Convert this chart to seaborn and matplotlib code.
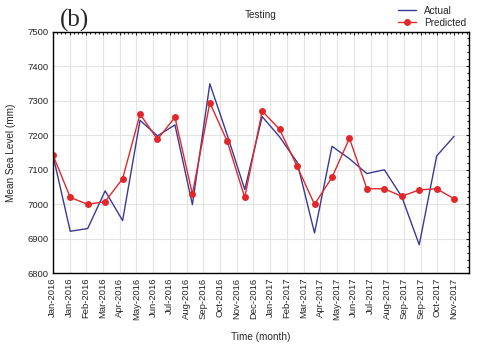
import matplotlib
matplotlib.use("Agg")
import matplotlib.pyplot as plt
import numpy as np
import pandas as pd
import seaborn as sns
from matplotlib.ticker import AutoMinorLocator, MultipleLocator

tick_labels = [
    "Jan-2016", "Jan-2016", "Feb-2016", "Mar-2016", "Apr-2016", "May-2016",
    "Jun-2016", "Jul-2016", "Aug-2016", "Sep-2016", "Oct-2016", "Nov-2016",
    "Dec-2016", "Jan-2017", "Feb-2017", "Mar-2017", "Apr-2017", "May-2017",
    "Jun-2017", "Jul-2017", "Aug-2017", "Sep-2017", "Sep-2017", "Oct-2017",
    "Nov-2017",
]

actual = [7144, 6922, 6930, 7039, 6953, 7243, 7198, 7230, 6999, 7349, 7200, 7043,
          7254, 7195, 7122, 6917, 7168, 7132, 7089, 7100, 7022, 6883, 7140, 7197]
predicted = [7144, 7020, 7000, 7008, 7074, 7261, 7188, 7252, 7030, 7294, 7182, 7020,
             7270, 7217, 7110, 7000, 7078, 7191, 7045, 7045, 7023, 7042, 7045, 7016]

df = pd.DataFrame({"step": range(len(actual)), "Actual": actual, "Predicted": predicted})

sns.set_theme(style="white")
plt.rcParams["font.family"] = ["Liberation Sans", "DejaVu Sans"]

fig = plt.figure(figsize=(4.8, 3.47), dpi=100)
ax = fig.add_axes([0.110, 0.212, 0.867, 0.697])

sns.lineplot(data=df, x="step", y="Actual", ax=ax, color="#3a3a96", linewidth=1.0,
             label="Actual")
sns.lineplot(data=df, x="step", y="Predicted", ax=ax, color="#e0282a", linewidth=1.0,
             marker="o", markersize=5, markeredgewidth=0, label="Predicted")

n = len(actual)
ticks = np.linspace(0, n - 1, len(tick_labels))
ax.set_xticks(ticks)
ax.set_xticklabels(tick_labels, rotation=90, fontsize=6.8)
ax.set_xlim(0, 23.85)
ax.set_ylim(6800, 7500)
ax.yaxis.set_major_locator(MultipleLocator(100))
ax.tick_params(axis="y", labelsize=6.8)
ax.xaxis.set_minor_locator(AutoMinorLocator(4))
ax.yaxis.set_minor_locator(AutoMinorLocator(5))
ax.tick_params(which="both", direction="in", top=True, right=True, length=2.5,
               width=0.8, color="#222222", pad=3)
ax.tick_params(which="minor", length=1.5)

ax.grid(True, which="major", color="#e3e3e3", linewidth=0.8)
for s in ax.spines.values():
    s.set_color("black")
    s.set_linewidth(1.0)

ax.set_xlabel("Time (month)", fontsize=7.2, labelpad=9)
ax.set_ylabel("Mean Sea Level (mm)", fontsize=7.2, labelpad=8)
ax.set_title("Testing", fontsize=7.2, pad=10)

fig.text(0.125, 0.922, "(b)", fontsize=18, family=["Liberation Serif", "DejaVu Serif"])

ax.legend_.remove()
handles, labels = ax.get_legend_handles_labels()
fig.legend(handles, labels, loc="upper right", bbox_to_anchor=(0.99, 1.01),
           frameon=False, fontsize=7.2, handlelength=1.8, labelspacing=0.2)

fig.savefig("out.png", dpi=100)
